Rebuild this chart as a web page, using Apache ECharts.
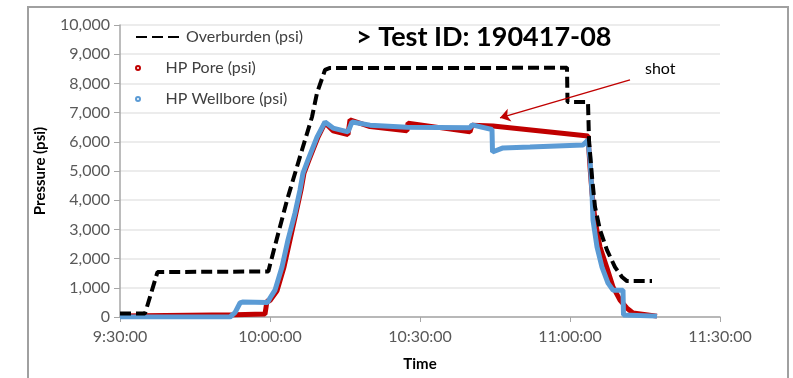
<!doctype html>
<html>
<head>
  <meta charset="utf-8">
  <title>Test ID 190417-08</title>
  <script src="https://cdn.jsdelivr.net/npm/echarts@6/dist/echarts.min.js"></script>
  <style>
    html, body { margin: 0; padding: 0; background: #fff; }
    #chart { width: 793px; height: 378px; }
  </style>
</head>
<body>
<div id="chart"></div>
<script type="text/javascript">

// time ticks (x axis)
var timeTicks = ['9:30:00', '10:00:00', '10:30:00', '11:00:00', '11:30:00'];
var pressureTicks = [0, 1000, 2000, 3000, 4000, 5000, 6000, 7000, 8000, 9000, 10000];

// Overburden (psi)
var overTime = ['9:30:00', '9:35:00', '9:37:30', '9:59:40', '10:00:24', '10:03:24', '10:06:24', '10:08:24', '10:09:24',
  '10:11:00', '10:12:00', '10:45:00', '10:45:10', '10:59:24', '10:59:30', '11:03:36', '11:03:48', '11:04:24',
  '11:05:00', '11:06:00', '11:07:24', '11:09:00', '11:10:24', '11:11:24', '11:16:24'];
var overPsi = [120, 120, 1540, 1560, 2050, 4000, 5720, 6850, 7670,
  8460, 8530, 8530, 8550, 8540, 7360, 7360, 6060, 4800,
  3770, 2980, 2290, 1710, 1370, 1230, 1230];

// HP Pore (psi)
var poreTime = ['9:30:00', '9:53:00', '9:59:00', '9:59:24', '10:00:00', '10:01:24', '10:02:48', '10:04:00', '10:05:12',
  '10:06:12', '10:06:48', '10:07:48', '10:09:36', '10:11:00', '10:12:36', '10:15:36', '10:16:00', '10:20:00',
  '10:27:24', '10:27:36', '10:40:00', '10:40:24', '10:44:36', '11:03:36', '11:04:00', '11:04:24', '11:05:00',
  '11:06:00', '11:07:24', '11:08:36', '11:10:00', '11:11:24', '11:12:36', '11:17:24'];
var porePsi = [30, 80, 100, 550, 560, 900, 1710, 2640, 3560,
  4350, 4930, 5380, 6160, 6650, 6380, 6250, 6750, 6520,
  6380, 6640, 6340, 6570, 6540, 6200, 5140, 4250, 3320,
  2400, 1680, 1030, 580, 300, 140, 30];

// HP Wellbore (psi)
var wellTime = ['9:30:00', '9:52:00', '9:53:00', '9:54:00', '9:54:30', '9:59:30', '10:00:00', '10:01:00', '10:02:24',
  '10:03:36', '10:05:00', '10:06:00', '10:06:36', '10:07:36', '10:09:24', '10:11:00', '10:12:36', '10:15:36',
  '10:16:24', '10:20:00', '10:27:24', '10:40:00', '10:40:24', '10:44:24', '10:44:30', '10:46:36', '10:52:00',
  '11:02:36', '11:03:36', '11:04:00', '11:04:24', '11:04:36', '11:05:24', '11:06:24', '11:07:36', '11:08:36',
  '11:10:36', '11:10:42', '11:17:24'];
var wellPsi = [0, 0, 150, 480, 510, 500, 650, 920, 1710,
  2640, 3560, 4350, 4930, 5380, 6160, 6680, 6470, 6340,
  6680, 6570, 6500, 6480, 6580, 6420, 5650, 5790, 5820,
  5890, 6060, 5380, 4250, 3320, 2400, 1710, 1160, 920,
  920, 70, 30];

// "shot" arrow, from label to tip
var shotArrowTime = ['11:12:00', '10:46:00'];
var shotArrowPsi = [8120, 6820];

function toSec(s) {
  var p = s.split(':');
  return (+p[0]) * 3600 + (+p[1]) * 60 + (+p[2]);
}
function pairs(ts, vs) {
  return ts.map(function (t, i) { return [toSec(t), vs[i]]; });
}
function fmtTime(v) {
  var h = Math.floor(v / 3600), m = Math.floor((v % 3600) / 60), s = Math.round(v % 60);
  return h + ':' + (m < 10 ? '0' : '') + m + ':' + (s < 10 ? '0' : '') + s;
}

var FONT = 'Lato';
var chart = echarts.init(document.getElementById('chart'));

var option = {
  animation: false,
  grid: { left: 120, right: 73, top: 25, bottom: 61 },
  graphic: [
    { type: 'rect', shape: { x: 28, y: 7, width: 760, height: 400 }, style: { fill: 'none', stroke: '#a0a0a0', lineWidth: 2 }, z: -1 },
    { type: 'text', left: 356, top: 24, style: { text: '> Test ID: 190417-08', font: 'bold 27px ' + FONT, fill: '#000' } },
    { type: 'text', left: 645, top: 61, style: { text: 'shot', font: '16px ' + FONT, fill: '#000' } }
  ],
  legend: [{
    data: ['Overburden (psi)'],
    orient: 'vertical', left: 130, top: 24,
    itemWidth: 45, itemHeight: 14,
    itemStyle: { opacity: 0 },
    textStyle: { fontFamily: FONT, fontSize: 16, color: '#404040' }
  }, {
    data: ['HP Pore (psi)', 'HP Wellbore (psi)'],
    orient: 'vertical', left: 130, top: 55,
    itemWidth: 45, itemHeight: 4, itemGap: 15,
    icon: 'emptyCircle',
    textStyle: { fontFamily: FONT, fontSize: 16, color: '#404040' }
  }],
  xAxis: {
    type: 'value',
    min: toSec(timeTicks[0]), max: toSec(timeTicks[timeTicks.length - 1]), interval: 1800,
    name: 'Time', nameLocation: 'middle', nameGap: 40,
    nameTextStyle: { fontFamily: FONT, fontSize: 15, fontWeight: 'bold', color: '#000' },
    axisLine: { lineStyle: { color: '#a6a6a6', width: 1.5 } },
    axisTick: { length: 5, lineStyle: { color: '#a6a6a6' } },
    axisLabel: { formatter: fmtTime, fontFamily: FONT, fontSize: 16, color: '#595959', margin: 12 },
    splitLine: { show: false }
  },
  yAxis: {
    type: 'value',
    min: pressureTicks[0], max: pressureTicks[pressureTicks.length - 1], interval: 1000,
    name: 'Pressure (psi)', nameLocation: 'middle', nameGap: 72,
    nameTextStyle: { fontFamily: FONT, fontSize: 15, fontWeight: 'bold', color: '#000' },
    axisLine: { show: true, lineStyle: { color: '#a6a6a6', width: 1.5 } },
    axisTick: { show: true, length: 6, lineStyle: { color: '#a6a6a6' } },
    axisLabel: {
      formatter: function (v) { return v.toLocaleString('en-US'); },
      fontFamily: FONT, fontSize: 16, color: '#595959', margin: 10
    },
    splitLine: { lineStyle: { color: '#e6e6e6', width: 1.5 } }
  },
  series: [{
    name: 'HP Pore (psi)',
    type: 'line',
    data: pairs(poreTime, porePsi),
    symbol: 'none',
    color: '#c00000',
    lineStyle: { width: 5, color: '#c00000' },
    markLine: {
      silent: true,
      symbol: ['none', 'arrow'], symbolSize: 10,
      label: { show: false },
      lineStyle: { color: '#c00000', width: 1.5, type: 'solid' },
      data: [[
        { coord: [toSec(shotArrowTime[0]), shotArrowPsi[0]] },
        { coord: [toSec(shotArrowTime[1]), shotArrowPsi[1]] }
      ]]
    }
  }, {
    name: 'HP Wellbore (psi)',
    type: 'line',
    data: pairs(wellTime, wellPsi),
    symbol: 'none',
    color: '#5b9bd5',
    lineStyle: { width: 5, color: '#5b9bd5' }
  }, {
    name: 'Overburden (psi)',
    type: 'line',
    data: pairs(overTime, overPsi),
    symbol: 'none',
    color: '#000',
    lineStyle: { width: 4, color: '#000', type: [11, 5] }
  }]
};

chart.setOption(option);

</script>
</body>
</html>
